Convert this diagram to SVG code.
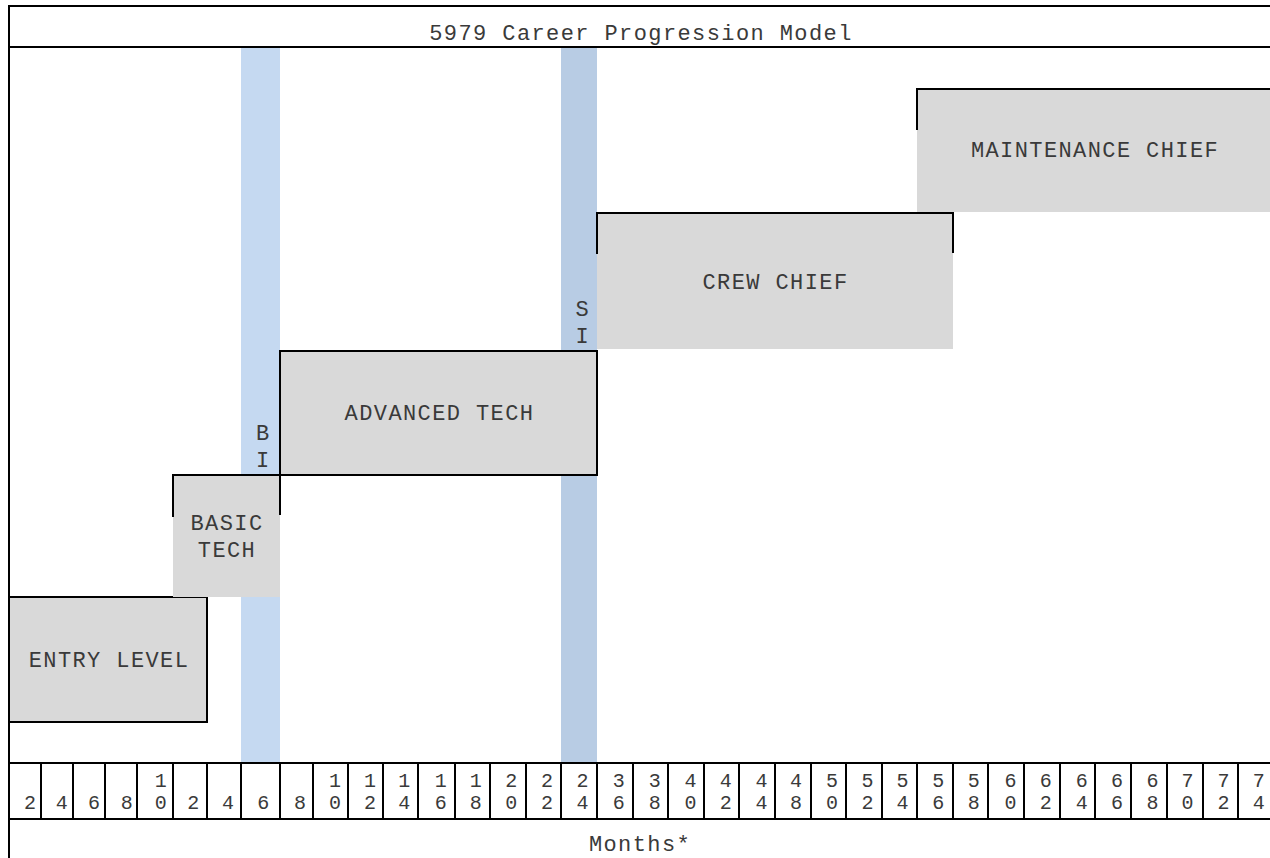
<svg xmlns="http://www.w3.org/2000/svg" width="1270" height="858" viewBox="0 0 1270 858">
<style>
.t{font-family:"Liberation Mono","Courier New",monospace;font-size:22px;letter-spacing:1.4px;fill:#3a3a3a;}
.c{text-anchor:middle;}
.d{font-family:"Liberation Mono","Courier New",monospace;font-size:20px;fill:#3a3a3a;text-anchor:middle;}
.b{font-family:"Liberation Mono","Courier New",monospace;font-size:22px;fill:#3a3a3a;text-anchor:middle;}
.ln{stroke:#000;stroke-width:2;fill:none;}
.box{fill:#d9d9d9;}
</style>
<rect x="0" y="0" width="1270" height="858" fill="#fff"/>
<g id="bands">
<rect id="band-bi" x="241" y="47" width="39" height="716" fill="#c5d9f1"/>
<rect id="band-si" x="561" y="47" width="36" height="716" fill="#b8cce4"/>
</g>
<g id="entry-level">
<rect class="box" x="9" y="597" width="198" height="125"/>
<path class="ln" d="M9 597H207V722H9"/>
<text class="t c" x="109" y="667">ENTRY LEVEL</text>
</g>
<g id="basic-tech">
<rect class="box" x="173" y="475" width="107" height="122"/>
<path class="ln" d="M173 517V475H280V515"/>
<text class="t c" x="227" y="530">BASIC</text>
<text class="t c" x="227" y="557">TECH</text>
</g>
<g id="advanced-tech">
<rect class="box" x="280" y="351" width="317" height="124"/>
<path class="ln" d="M280 475V351H597V475H280"/>
<text class="t c" x="439.5" y="420">ADVANCED TECH</text>
</g>
<g id="crew-chief">
<rect class="box" x="597" y="213" width="356" height="136"/>
<path class="ln" d="M597 254V213H953V253"/>
<text class="t c" x="775.5" y="289">CREW CHIEF</text>
</g>
<g id="maintenance-chief">
<rect class="box" x="917" y="89" width="353" height="123"/>
<path class="ln" d="M917 130V89H1270"/>
<text class="t c" x="1095" y="157">MAINTENANCE CHIEF</text>
</g>
<g id="band-labels" class="b">
<text x="262.5" y="440">B</text>
<text x="262.5" y="467">I</text>
<text x="582" y="316">S</text>
<text x="582" y="343">I</text>
</g>
<g id="frame">
<path class="ln" d="M9 858V6H1270M9 47H1270M9 763H1270M9 819H1270"/>
<path class="ln" d="M41 763V819M73 763V819M105 763V819M137 763V819M173 763V819M207 763V819M241 763V819M280 763V819M313 763V819M348 763V819M383 763V819M418 763V819M455 763V819M490 763V819M526 763V819M561 763V819M597 763V819M633 763V819M668 763V819M704 763V819M739 763V819M775 763V819M811 763V819M846 763V819M882 763V819M917 763V819M953 763V819M988 763V819M1024 763V819M1060 763V819M1095 763V819M1131 763V819M1167 763V819M1203 763V819M1238 763V819"/>
<text class="t c" x="641" y="40">5979 Career Progression Model</text>
<text class="t c" x="640" y="851">Months*</text>
</g>
<g id="axis-labels" class="d">
<text x="30" y="809">2</text>
<text x="61.7" y="809">4</text>
<text x="94" y="809">6</text>
<text x="126.7" y="809">8</text>
<text x="160.8" y="787">1</text><text x="160.8" y="809">0</text>
<text x="193.3" y="809">2</text>
<text x="228" y="809">4</text>
<text x="263.3" y="809">6</text>
<text x="300" y="809">8</text>
<text x="335" y="787">1</text><text x="335" y="809">0</text>
<text x="370" y="787">1</text><text x="370" y="809">2</text>
<text x="404.3" y="787">1</text><text x="404.3" y="809">4</text>
<text x="440.8" y="787">1</text><text x="440.8" y="809">6</text>
<text x="475.8" y="787">1</text><text x="475.8" y="809">8</text>
<text x="511.3" y="787">2</text><text x="511.3" y="809">0</text>
<text x="547" y="787">2</text><text x="547" y="809">2</text>
<text x="582.5" y="787">2</text><text x="582.5" y="809">4</text>
<text x="618.7" y="787">3</text><text x="618.7" y="809">6</text>
<text x="654.7" y="787">3</text><text x="654.7" y="809">8</text>
<text x="690.5" y="787">4</text><text x="690.5" y="809">0</text>
<text x="725.8" y="787">4</text><text x="725.8" y="809">2</text>
<text x="761.5" y="787">4</text><text x="761.5" y="809">4</text>
<text x="796" y="787">4</text><text x="796" y="809">8</text>
<text x="832" y="787">5</text><text x="832" y="809">0</text>
<text x="867.5" y="787">5</text><text x="867.5" y="809">2</text>
<text x="902.5" y="787">5</text><text x="902.5" y="809">4</text>
<text x="938.3" y="787">5</text><text x="938.3" y="809">6</text>
<text x="973.8" y="787">5</text><text x="973.8" y="809">8</text>
<text x="1010.5" y="787">6</text><text x="1010.5" y="809">0</text>
<text x="1045.8" y="787">6</text><text x="1045.8" y="809">2</text>
<text x="1081.7" y="787">6</text><text x="1081.7" y="809">4</text>
<text x="1117" y="787">6</text><text x="1117" y="809">6</text>
<text x="1152.5" y="787">6</text><text x="1152.5" y="809">8</text>
<text x="1187.5" y="787">7</text><text x="1187.5" y="809">0</text>
<text x="1223.5" y="787">7</text><text x="1223.5" y="809">2</text>
<text x="1258.7" y="787">7</text><text x="1258.7" y="809">4</text>
</g>
</svg>
